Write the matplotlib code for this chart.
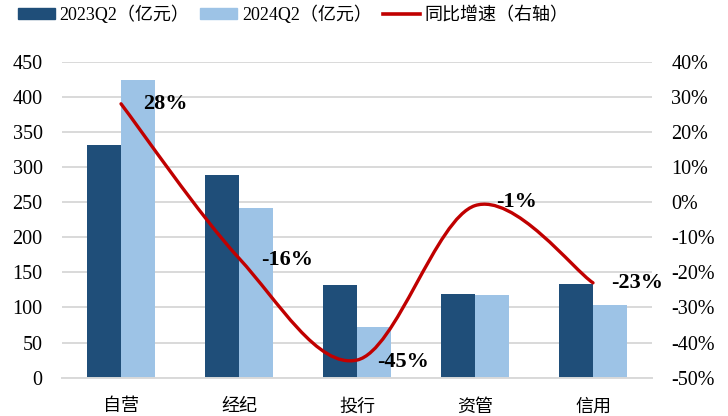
import matplotlib
matplotlib.use("Agg")
import matplotlib.pyplot as plt
import numpy as np
from matplotlib.path import Path
from matplotlib.patches import PathPatch
from matplotlib.lines import Line2D
from matplotlib.ticker import FuncFormatter

plt.rcParams['font.family'] = ['Liberation Serif', 'Noto Sans CJK SC']

categories = ['自营', '经纪', '投行', '资管', '信用']
q2_2023 = [332, 288, 132, 119, 133]
q2_2024 = [424, 241, 72, 118, 103]
yoy = [28, -16, -45, -1, -23]
yoy_labels = ['28%', '-16%', '-45%', '-1%', '-23%']

dark = '#1F4E79'
light = '#9DC3E6'
red = '#C00000'

fig = plt.figure(figsize=(7.28, 4.16), dpi=100)
ax = fig.add_axes([0.0852, 0.0923, 0.8104, 0.7594])
ax2 = ax.twinx()

x = np.arange(len(categories))
w = 0.285
ax.bar(x - w / 2, q2_2023, w, color=dark, zorder=2)
ax.bar(x + w / 2, q2_2024, w, color=light, zorder=2)

ax.set_xlim(-0.5, len(categories) - 0.5)
ax.set_ylim(0, 450)
ax.set_yticks(np.arange(0, 451, 50))
ax.grid(axis='y', color='#D9D9D9', linewidth=1.4, zorder=0)
ax.set_axisbelow(True)
ax.set_xticks(x)
ax.set_xticklabels(categories)
ax.tick_params(axis='y', length=0, labelsize=14.5, pad=14)
ax.tick_params(axis='x', length=0, labelsize=13, pad=15)
for s in ['top', 'right', 'left']:
    ax.spines[s].set_visible(False)
ax.spines['bottom'].set_color('#D9D9D9')
ax.spines['bottom'].set_linewidth(1.4)

ax2.set_ylim(-50, 40)
ax2.set_yticks(np.arange(-50, 41, 10))
ax2.yaxis.set_major_formatter(FuncFormatter(lambda v, p: f'{int(round(v))}%'))
ax2.tick_params(axis='y', length=0, labelsize=14.5, pad=14)
for s in ['top', 'right', 'left', 'bottom']:
    ax2.spines[s].set_visible(False)

# Smoothed growth line as a cubic Bezier path (Catmull-Rom control points)
pts = np.column_stack([x, yoy]).astype(float)
ext = np.vstack([pts[0], pts, pts[-1]])
verts = [tuple(pts[0])]
codes = [Path.MOVETO]
for i in range(len(pts) - 1):
    p0, p1, p2, p3 = ext[i], ext[i + 1], ext[i + 2], ext[i + 3]
    c1 = p1 + (p2 - p0) / 6
    c2 = p2 - (p3 - p1) / 6
    verts += [tuple(c1), tuple(c2), tuple(p2)]
    codes += [Path.CURVE4] * 3
ax2.add_patch(PathPatch(Path(verts, codes), facecolor='none', edgecolor=red,
                        linewidth=2.4, capstyle='round', zorder=3))

offsets = [(44, 0), (48, -2), (46, -2), (42, 4), (44, 0)]
for xi, yi, lab, off in zip(x, yoy, yoy_labels, offsets):
    ax2.annotate(lab, (xi, yi), xytext=off, textcoords='offset pixels',
                 ha='center', va='center', fontsize=16, fontweight='bold', zorder=4)

handles = [plt.Rectangle((0, 0), 1, 1, color=dark),
           plt.Rectangle((0, 0), 1, 1, color=light),
           Line2D([0], [0], color=red, linewidth=2.6)]
labels = ['2023Q2（亿元）', '2024Q2（亿元）', '同比增速（右轴）']
fig.legend(handles, labels, loc='upper left', bbox_to_anchor=(0.01, 1.012), ncol=3,
           frameon=False, fontsize=13, handlelength=2.05, handleheight=0.55,
           handletextpad=0.25, columnspacing=0.6, borderaxespad=0.2)

fig.savefig('out.png', dpi=100)
